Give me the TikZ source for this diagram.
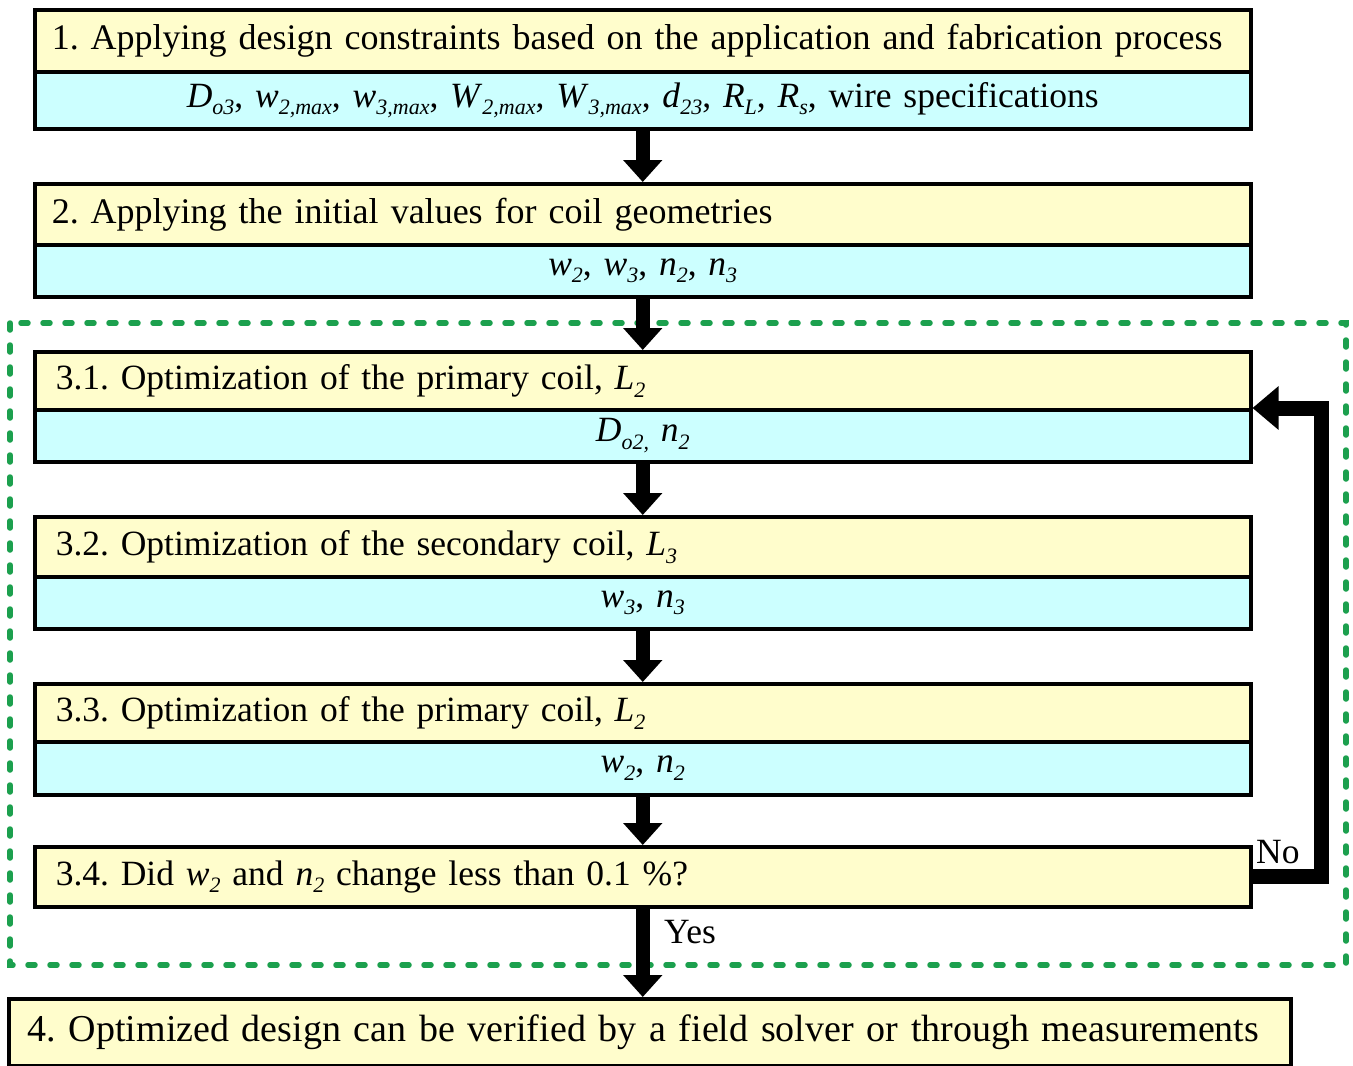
\documentclass[tikz,border=0pt]{standalone}
\usepackage{fontspec}
\setmainfont{Liberation Serif}
\usetikzlibrary{arrows.meta}
\definecolor{ylw}{RGB}{255,253,204}
\definecolor{cyn}{RGB}{204,255,255}
\definecolor{grn}{RGB}{28,160,78}
\newcommand\vv[2]{\textit{#1}\raisebox{-0.22em}{\fontsize{22pt}{22pt}\selectfont\textit{#2}}}
\frenchspacing
\begin{document}
\begin{tikzpicture}[x=1pt,y=-1pt,
  box/.style={draw=black,line width=3.5pt,rectangle,anchor=north west,minimum width=1216pt,
    inner sep=0pt,font=\fontsize{35.5pt}{40pt}\selectfont},
  ybox/.style={box,fill=ylw,text width=1182pt,align=left},
  bbox/.style={box,fill=cyn,text width=1216pt,align=center},
  flow/.style={line width=14pt,-{Triangle[width=38pt,length=22pt]}},
  fb/.style={line width=15pt,-{Triangle[width=42pt,length=26pt]}},
  lbl/.style={font=\fontsize{35.5pt}{40pt}\selectfont,inner sep=0pt}
]
\useasboundingbox (0,0) rectangle (1353,1066);
% green loop frame
\draw[grn,line width=5.5pt,dash pattern=on 7pt off 15pt,line cap=round] (10,323) rectangle (1346,965);
% box 1
\node[ybox,minimum height=62pt,font=\fontsize{36pt}{40pt}\selectfont] (b1t) at (33,8) {1. Applying design constraints based on the application and fabrication process};
\node[bbox,minimum height=57pt] (b1b) at (33,70) {\vv{D}{o3}, \vv{w}{2,max}, \vv{w}{3,max}, \vv{W}{2,max}, \vv{W}{3,max}, \vv{d}{23}, \vv{R}{L}, \vv{R}{s}, wire specifications};
% box 2
\node[ybox,minimum height=61pt,font=\fontsize{36pt}{40pt}\selectfont] (b2t) at (33,182) {2. Applying the initial values for coil geometries};
\node[bbox,minimum height=52pt] (b2b) at (33,243) {\vv{w}{2}, \vv{w}{3}, \vv{n}{2}, \vv{n}{3}};
% box 3.1
\node[ybox,minimum height=58pt] (b31t) at (33,350) {\hspace*{4pt}3.1. Optimization of the primary coil, \vv{L}{2}};
\node[bbox,minimum height=52pt] (b31b) at (33,408) {\vv{D}{o2,} \vv{n}{2}};
% box 3.2
\node[ybox,minimum height=60pt] (b32t) at (33,515) {\hspace*{4pt}3.2. Optimization of the secondary coil, \vv{L}{3}};
\node[bbox,minimum height=52pt] (b32b) at (33,575) {\vv{w}{3}, \vv{n}{3}};
% box 3.3
\node[ybox,minimum height=58pt] (b33t) at (33,682) {\hspace*{4pt}3.3. Optimization of the primary coil, \vv{L}{2}};
\node[bbox,minimum height=53pt] (b33b) at (33,740) {\vv{w}{2}, \vv{n}{2}};
% box 3.4
\node[ybox,minimum height=60pt] (b34) at (33,845) {\hspace*{4pt}3.4. Did \vv{w}{2} and \vv{n}{2} change less than 0.1 \%?};
% box 4
\node[box,fill=ylw,minimum width=1282pt,minimum height=67pt,text width=1282pt,align=left,font=\fontsize{38pt}{42pt}\selectfont] (b4) at (7,997) {\hspace*{19pt}\mbox{4. Optimized design can be verified by a field solver or through measurements}};
% arrows
\draw[flow] (b1b.south) -- (b2t.north);
\draw[flow] (b2b.south) -- (b31t.north);
\draw[flow] (b31b.south) -- (b32t.north);
\draw[flow] (b32b.south) -- (b33t.north);
\draw[flow] (b33b.south) -- (b34.north);
\draw[flow] (b34.south) -- (b34.south |- b4.north);
\draw[fb] (b34.east) -- ++(69,0) |- (b31b.north east);
\node[lbl,anchor=south west] (no) at (1256,864) {No};
\node[lbl,anchor=west] (yes) at (664,932) {Yes};
\end{tikzpicture}
\end{document}
